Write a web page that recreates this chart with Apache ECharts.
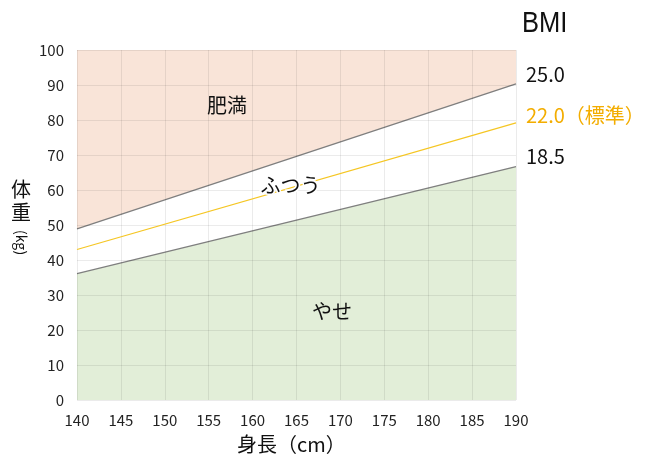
<!DOCTYPE html>
<html><head><meta charset="utf-8">
<script src="https://cdn.jsdelivr.net/npm/echarts@6/dist/echarts.min.js"></script>
<style>html,body{margin:0;padding:0;background:#fff}#c{width:650px;height:467px}</style>
</head><body><div id="c"></div>
<script>
const heights = [140,190];
const bmi25 = [48.9,90.3];
const bmi22 = [43.0,79.2];
const bmi185 = [36.1,66.7];
const yTicks = [0,10,20,30,40,50,60,70,80,90,100];

const FONT = '"Noto Sans CJK JP", sans-serif';
const pair = a => heights.map((h,i)=>[h,a[i]]);
const chart = echarts.init(document.getElementById('c'), null, {renderer:'canvas'});
chart.setOption({
  animation:false,
  textStyle:{fontFamily:FONT},
  grid:{left:77,right:134,top:50,bottom:67},
  xAxis:{type:'value',min:140,max:190,interval:5,z:3,
    axisLine:{show:false},axisTick:{show:false},
    axisLabel:{color:'#222',fontSize:15,margin:13,fontFamily:FONT},
    splitLine:{show:true,lineStyle:{color:'rgba(0,0,0,0.08)',width:1}}},
  yAxis:{type:'value',min:0,max:100,interval:10,z:3,
    axisLine:{show:false},axisTick:{show:false},
    axisLabel:{color:'#222',fontSize:15,margin:13,fontFamily:FONT},
    splitLine:{show:true,lineStyle:{color:'rgba(0,0,0,0.08)',width:1}}},
  series:[
    {type:'line',data:pair(bmi25),symbol:'none',lineStyle:{color:'#7f7f7f',width:1.3},
     areaStyle:{color:'#f9e4d8',opacity:1,origin:'end'},z:2},
    {type:'line',data:pair(bmi185),symbol:'none',lineStyle:{color:'#7f7f7f',width:1.3},
     areaStyle:{color:'#e2eed8',opacity:1,origin:'start'},z:2},
    {type:'line',data:pair(bmi22),symbol:'none',lineStyle:{color:'#f5c623',width:1.2},z:4}
  ],
  graphic:[
    {type:'text',z:20,x:522,y:9,scaleX:0.88,style:{text:'BMI',fontSize:29,fill:'#111',fontFamily:'"Liberation Sans",sans-serif',fontWeight:'normal'}},
    {type:'text',z:20,left:526,top:64,style:{text:'25.0',fontSize:20,fill:'#111',fontFamily:FONT}},
    {type:'text',z:20,left:526,top:105,style:{text:'22.0（標準）',fontSize:20,fill:'#f3ad00',fontFamily:FONT}},
    {type:'text',z:20,left:526,top:146,style:{text:'18.5',fontSize:20,fill:'#111',fontFamily:FONT}},
    {type:'text',z:20,left:207,top:95,style:{text:'肥満',fontSize:20,fill:'#111',fontFamily:FONT}},
    {type:'text',z:20,left:259,top:174,style:{text:'ふつう',fontSize:20,fill:'#111',fontFamily:FONT,stroke:'#fff',lineWidth:3}},
    {type:'text',z:20,left:312,top:301,style:{text:'やせ',fontSize:20,fill:'#111',fontFamily:FONT}},
    {type:'text',z:20,left:11,top:178,style:{text:'体\n重',fontSize:20,lineHeight:23,fill:'#111',fontFamily:FONT}},
    {type:'text',z:20,x:28,y:230,rotation:-Math.PI/2,style:{text:'(kg)',fontSize:14,fill:'#111',fontFamily:FONT}},
    {type:'text',z:20,left:237,top:434,style:{text:'身長（cm）',fontSize:20,fill:'#111',fontFamily:FONT}}
  ]
});
</script></body></html>
